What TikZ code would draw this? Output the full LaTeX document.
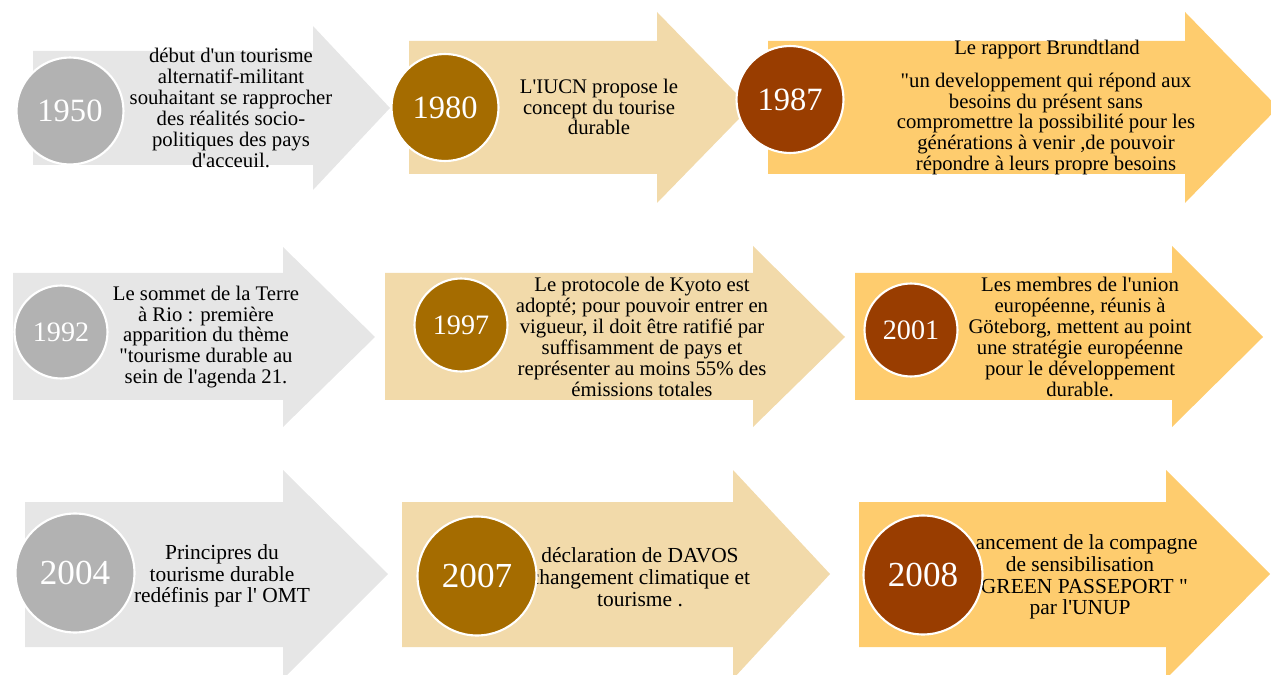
\documentclass[tikz,border=0pt]{standalone}
\usepackage{fontspec}
\setmainfont{Liberation Serif}[Ligatures=TeXOff]
\definecolor{grayA}{HTML}{E6E6E6}
\definecolor{grayC}{HTML}{B2B2B2}
\definecolor{beigeA}{HTML}{F2DAAA}
\definecolor{brownC}{HTML}{A56C00}
\definecolor{orangeA}{HTML}{FECC6E}
\definecolor{redC}{HTML}{993D00}
\tikzset{
  yr/.style={circle, draw=white, line width=1.2pt, text=white, inner sep=0pt},
  yrA/.style={yr, minimum size=2.14cm, font=\fontsize{18.5}{20}\selectfont},
  yrB/.style={yr, minimum size=1.86cm, font=\fontsize{16}{18}\selectfont},
  yrC/.style={yr, minimum size=2.38cm, font=\fontsize{20}{22}\selectfont},
  txtA/.style={align=center, inner sep=0pt, text=black, font=\fontsize{11.8}{11.9}\selectfont},
  txtC/.style={align=center, inner sep=0pt, text=black, font=\fontsize{12.2}{12.4}\selectfont},
}
\newcommand{\arrowshape}[9]{%
  % #1 color, #2 x left, #3 x head, #4 x tip, #5 body top, #6 body bottom, #7 head top, #8 head bottom, #9 mid
  \fill[#1] (#2,#5) -- (#3,#5) -- (#3,#7) -- (#4,#9) -- (#3,#8) -- (#3,#6) -- (#2,#6) -- cycle;}
\begin{document}
\begin{tikzpicture}[x=0.02cm,y=-0.02cm]
\useasboundingbox (0,0) rectangle (1271,675);
% arrows
\arrowshape{grayA}{33}{313}{390}{51}{165}{26}{190}{108}
\arrowshape{beigeA}{409}{657}{750}{41}{174}{12}{203}{107.5}
\arrowshape{orangeA}{768}{1185}{1278}{41}{174}{12}{203}{107.5}
\arrowshape{grayA}{13}{283}{375}{273}{400}{247}{427}{337}
\arrowshape{beigeA}{385}{753}{845}{273}{400}{246}{427}{337}
\arrowshape{orangeA}{855}{1172}{1263}{273}{400}{246}{427}{337}
\arrowshape{grayA}{25}{283}{388}{502}{647}{470}{679}{574}
\arrowshape{beigeA}{402}{733}{830}{502}{647}{470}{679}{574}
\arrowshape{orangeA}{859}{1166}{1270}{502}{647}{470}{679}{574}
% texts
\node[txtA] (t1950) at (231,108) {début d'un tourisme\\alternatif-militant\\souhaitant se rapprocher\\des réalités socio-\\politiques des pays\\d'acceuil.};
\node[txtA] (t1980) at (599,107) {L'IUCN propose le\\concept du tourise\\durable};
\node[txtA] (t1987a) at (1047,50) {Le rapport Brundtland};
\node[txtA] (t1987b) at (1046,124) {"un developpement qui répond aux\\besoins du présent sans\\compromettre la possibilité pour les\\générations à venir ,de pouvoir\\répondre à leurs propre besoins};
\node[txtA] (t1992) at (206,337) {Le sommet de la Terre\\à Rio : première\\apparition du thème\\"tourisme durable au\\sein de l'agenda 21.};
\node[txtA] (t1997) at (642,337) {Le protocole de Kyoto est\\adopté; pour pouvoir entrer en\\vigueur, il doit être ratifié par\\suffisamment de pays et\\représenter au moins 55\% des\\émissions totales};
\node[txtA] (t2001) at (1080,337) {Les membres de l'union\\européenne, réunis à\\Göteborg, mettent au point\\une stratégie européenne\\pour le développement\\durable.};
\node[txtC] (t2004) at (222,576) {Principres du\\tourisme durable\\redéfinis par l' OMT};
\node[txtC] (t2007) at (640,577) {déclaration de DAVOS\\changement climatique et\\tourisme .};
\node[txtC] (t2008) at (1080,577) {Lancement de la compagne\\de sensibilisation\\"GREEN PASSEPORT "\\par l'UNUP};
% year circles
\node[yrA, fill=grayC] (c1950) at (70,111) {1950};
\node[yrA, fill=brownC] (c1980) at (445,107.5) {1980};
\node[yrA, fill=redC] (c1987) at (790,99.5) {1987};
\node[yrB, fill=grayC] (c1992) at (61,332) {1992};
\node[yrB, fill=brownC] (c1997) at (461,325) {1997};
\node[yrB, fill=redC] (c2001) at (911,330) {2001};
\node[yrC, fill=grayC] (c2004) at (75,573) {2004};
\node[yrC, fill=brownC] (c2007) at (477,576) {2007};
\node[yrC, fill=redC] (c2008) at (923,575) {2008};
\end{tikzpicture}
\end{document}
